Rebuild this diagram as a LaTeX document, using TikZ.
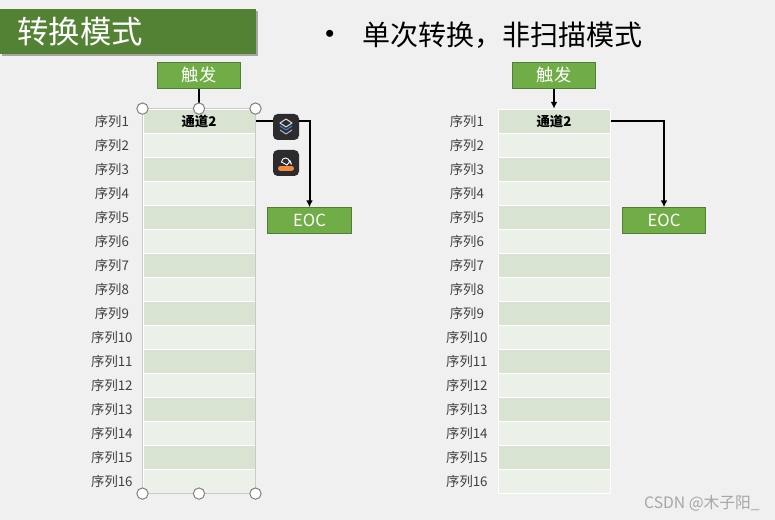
\documentclass[tikz,border=0pt]{standalone}
\usepackage{fontspec}
\setmainfont{Noto Sans CJK SC}
\usetikzlibrary{arrows.meta,positioning,shadows}
\definecolor{pageGray}{HTML}{F0F0F0}
\definecolor{titleGreen}{HTML}{548235}
\definecolor{boxGreen}{HTML}{70AD47}
\definecolor{boxEdge}{HTML}{507E32}
\definecolor{rowDark}{HTML}{D8E3D1}
\definecolor{rowLight}{HTML}{EBF0E9}
\definecolor{seqText}{HTML}{404040}
\definecolor{frameGray}{HTML}{C8CCC8}
\definecolor{iconDark}{HTML}{2C2C2E}
\definecolor{layerBlue}{HTML}{3C78D8}
\definecolor{paintOrange}{HTML}{F08C3C}
\definecolor{markGray}{HTML}{A6A6A6}
\tikzset{
  greenbox/.style={draw=boxEdge,fill=boxGreen,line width=0.75pt,text=white,font=\fontsize{13}{15}\selectfont,minimum width=62.5pt,minimum height=19.25pt,inner sep=0pt},
  tablerow/.style={draw=white,line width=0.75pt,minimum width=84pt,minimum height=18pt,inner sep=0pt},
  seqlabel/.style={minimum width=31.5pt,inner sep=0pt,text=seqText,font=\fontsize{10}{12}\selectfont},
  conn/.style={line width=1.5pt,-{Latex[length=5pt,width=5pt]}},
  handle/.style={circle,draw=gray,fill=white,line width=0.75pt,minimum size=8.5pt,inner sep=0pt},
  iconbox/.style={fill=iconDark,rounded corners=3.5pt,minimum size=19.5pt,inner sep=0pt}
}
\begin{document}
\begin{tikzpicture}[x=0.75pt,y=-0.75pt]
	\fill[pageGray] (0,0) rectangle (775,520);
	\useasboundingbox (0,0) rectangle (775,520);
	\node[anchor=north west,fill=titleGreen,text=white,minimum width=192pt,minimum height=33.75pt,inner xsep=13pt,inner ysep=0pt,text width=166pt,align=left,font=\fontsize{23.5}{26}\selectfont,drop shadow={shadow xshift=1.5pt,shadow yshift=-1.5pt,fill=black!55,opacity=0.6}] (title) at (0,9) {转换模式};
	\node[inner sep=0pt,font=\fontsize{25}{27}\selectfont] (bullet) at (330,38.4) {•};
	\node[anchor=west,inner sep=0pt,font=\fontsize{21}{24}\selectfont] (mode) at (362,35) {单次转换，非扫描模式};
	\foreach \i [evaluate=\i as \rowy using {121.1+24*(\i-1)}, evaluate=\i as \shade using {int(mod(\i,2))}] in {1,...,16}{
		\ifnum\shade=1 \def\rowcol{rowDark}\else \def\rowcol{rowLight}\fi
		\node[tablerow,fill=\rowcol] (rowA\i) at (199,\rowy) {};
		\node[tablerow,fill=\rowcol] (rowB\i) at (554,\rowy) {};
		\node[seqlabel,left=7pt of rowA\i.west] (seqA\i) {序列\i};
		\node[seqlabel,left=7pt of rowB\i.west] (seqB\i) {序列\i};
	}
	\node[font=\fontsize{10}{12}\selectfont\bfseries] (chA) at (rowA1) {通道2};
	\node[font=\fontsize{10}{12}\selectfont\bfseries] (chB) at (rowB1) {通道2};
	\draw[frameGray,line width=0.75pt] (rowA1.north west) rectangle (rowA16.south east);
	\node[greenbox] (trigA) at (199,75.3) {触发};
	\node[greenbox] (trigB) at (554,75.3) {触发};
	\node[greenbox,font=\fontsize{12.5}{15}\selectfont] (eocA) at (309.5,220.5) {EOC};
	\node[greenbox,font=\fontsize{12.5}{15}\selectfont] (eocB) at (664,220.5) {EOC};
	\draw[line width=1.5pt] (trigA.south) -- (rowA1.north);
	\draw[conn] (trigB.south) -- (rowB1.north);
	\draw[conn] (rowA1.east) -| (eocA.north);
	\draw[conn] (rowB1.east) -| (eocB.north);
	\node[handle] (hNW) at (rowA1.north west) {};
	\node[handle] (hN) at (rowA1.north) {};
	\node[handle] (hNE) at (rowA1.north east) {};
	\node[handle] (hSW) at (rowA16.south west) {};
	\node[handle] (hS) at (rowA16.south) {};
	\node[handle] (hSE) at (rowA16.south east) {};
	\node[iconbox] (iconLayers) at (286,127) {};
	\node[iconbox] (iconPaint) at (286,163) {};
	\draw[white!85!black,line width=0.8pt,line join=round] (280,123) -- (286,119) -- (292,123) -- (286,127) -- cycle;
	\draw[layerBlue,line width=0.9pt,line join=round] (280,126) -- (286,130) -- (292,126);
	\draw[white!70!black,line width=0.8pt,line join=round] (280,130) -- (286,134) -- (292,130);
	\draw[white,line width=0.7pt] (281.5,162) arc[start angle=180,end angle=360,radius=4] -- (287,165) -- cycle;
	\draw[white,line width=0.8pt] (289.5,160) -- (291.5,164.5);
	\draw[paintOrange,line width=3.75pt,line cap=round] (280.5,168.2) -- (291.5,168.2);
	\node[anchor=east,inner sep=0pt,text=markGray,font=\fontsize{11.8}{14}\selectfont] (mark) at (760,503) {CSDN @木子阳\_};
\end{tikzpicture}
\end{document}
